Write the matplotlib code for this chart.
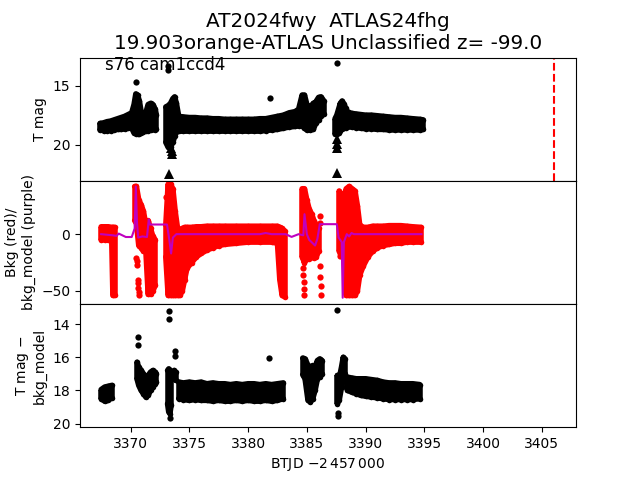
import numpy as np
import matplotlib
matplotlib.use("Agg")
import matplotlib.pyplot as plt

nan = np.nan

# ---------------- top panel: T mag envelope (bright edge, faint edge) ----------------
top_t = [3367.4, 3367.7, 3368.0, 3368.3, 3368.6, 3368.9, 3369.2, 3369.5, 3369.8, 3370.1,
         3370.3, 3370.45, 3370.6, 3370.75, 3370.9, 3371.1, 3371.3, 3371.5, 3371.7, 3371.9,
         3372.1, 3372.2, nan,
         3373.0, 3373.2, 3373.4, 3373.6, 3373.75, 3373.9, 3374.1, 3374.5, 3375.0, 3375.5,
         3376.0, 3376.5, 3377.0, 3377.5, 3378.0, 3378.5, 3379.0, 3379.5, 3380.0, 3380.5,
         3381.0, 3381.5, 3382.0, 3382.5, 3383.0, 3383.5, 3384.0, 3384.3, 3384.6, 3384.8,
         3385.0, 3385.3, 3385.55, 3385.75, 3386.0, 3386.2, 3386.45, nan,
         3387.4, 3387.55, 3387.7, 3387.85, 3388.0, 3388.15, 3388.3, 3388.45, 3388.8, 3389.2,
         3389.6, 3390.0, 3390.5, 3391.0, 3391.5, 3392.0, 3392.5, 3393.0, 3393.5, 3394.0,
         3394.6, 3394.9]
top_lo = [18.2, 18.15, 18.05, 18.0, 17.9, 17.8, 17.7, 17.6, 17.45, 17.3,
          16.6, 15.7, 15.8, 16.3, 17.2, 17.4, 17.3, 16.6, 16.5, 16.6,
          17.0, 17.5, nan,
          16.8, 16.7, 16.5, 16.1, 15.95, 16.5, 17.6, 17.65, 17.7, 17.7,
          17.75, 17.75, 17.8, 17.8, 17.85, 17.85, 17.85, 17.85, 17.85, 17.85,
          17.8, 17.8, 17.7, 17.6, 17.5, 17.3, 17.2, 17.0, 15.8, 15.8,
          16.6, 16.8, 16.5, 16.4, 16.0, 15.95, 16.3, nan,
          17.8, 17.5, 17.0, 16.5, 16.3, 16.55, 16.9, 17.2, 17.35, 17.4,
          17.45, 17.5, 17.5, 17.55, 17.6, 17.65, 17.7, 17.7, 17.75, 17.8,
          17.85, 17.9]
top_hi = [18.75, 18.8, 18.8, 18.8, 18.75, 18.7, 18.7, 18.65, 18.6, 18.6,
          19.0, 19.05, 19.1, 19.05, 19.0, 18.9, 18.8, 18.8, 18.75, 18.7,
          18.75, 18.7, nan,
          19.8, 20.2, 20.2, 19.8, 19.3, 18.9, 18.85, 18.85, 18.85, 18.85,
          18.85, 18.85, 18.85, 18.85, 18.85, 18.85, 18.85, 18.85, 18.85, 18.85,
          18.85, 18.8, 18.75, 18.7, 18.6, 18.5, 18.45, 18.4, 18.4, 18.6,
          18.75, 18.75, 18.7, 18.2, 17.9, 17.6, 17.4, nan,
          19.1, 19.1, 19.0, 18.8, 18.7, 18.6, 18.55, 18.5, 18.5, 18.55,
          18.6, 18.65, 18.65, 18.7, 18.7, 18.75, 18.75, 18.75, 18.75, 18.75,
          18.75, 18.7]
top_pt_t = [3370.5, 3373.2, 3373.2, 3381.84, 3387.54]
top_pt_m = [14.7, 13.35, 13.7, 16.05, 13.05]
lim_t = [3373.25, 3373.45, 3373.5, 3373.55, 3387.55, 3387.55, 3387.55, 3387.55]
lim_m = [22.5, 20.3, 20.55, 20.75, 19.55, 19.9, 20.25, 22.4]
ref_t = 3406.0

# ---------------- middle panel: background (red) and model (purple) ----------------
bkg_t = [3367.5, 3367.8, 3368.1, 3368.4, 3368.5, 3368.65, nan,
         3370.35, 3370.5, 3370.7, 3370.9, 3371.1, 3371.3, 3371.5, 3371.7, 3371.9, 3372.1, nan,
         3373.0, 3373.2, 3373.4, 3373.6, 3373.8, 3374.0, 3374.2, 3374.4, 3374.6, 3374.8,
         3375.2, 3375.6, 3376.0, 3376.5, 3377.0, 3377.5, 3378.0, 3379.0, 3380.0, 3381.0,
         3382.0, 3382.5, 3382.7, 3382.9, 3383.1, nan,
         3384.6, 3384.8, 3385.0, 3385.2, 3385.4, 3385.6, 3385.8, 3386.0, nan,
         3387.75, 3387.95, 3388.15, 3388.35, 3388.6, 3388.85, 3389.1, 3389.3, 3389.5, 3389.8,
         3390.2, 3390.6, 3391.0, 3391.5, 3392.0, 3392.5, 3393.0, 3393.5, 3394.0, 3394.7]
bkg_lo = [-5, -5, -5, -5, -54, -54, nan,
          12, 10, -10, -12, -15, -14, -53, -53, -50, -45, nan,
          -20, -54, -54, -54, -54, -54, -54, -50, -40, -30,
          -25, -20, -17, -14, -12, -10, -9, -8, -7, -7,
          -7, -8, -40, -54, -55, nan,
          -20, -25, -22, -22, -20, -21, -20, -15, nan,
          -15, -15, -18, -54, -54, -54, -54, -50, -36, -28,
          -20, -15, -12, -10, -9, -8, -8, -7, -7, -7]
bkg_hi = [6.5, 6.5, 6.5, 6.0, 6.0, 6.0, nan,
          42, 42, 30, 26, 20, 8, 12, 5, -2, -5, nan,
          8, 44, 44, 40, 20, 5, 3, 5, 6, 6,
          6, 6.5, 6.5, 7, 7, 7, 7, 7, 7, 7,
          7, 7, 6, 5, 3, nan,
          40, 40, 30, 22, 18, 12, 8, 5, nan,
          38, 35, 30, 40, 42, 40, 38, 25, 8, 6,
          6, 7, 7, 7, 7.5, 7.5, 7.5, 7, 6.5, 6]
bkg_pt_t = [3370.5, 3370.52, 3370.55, 3370.6, 3370.62, 3370.65, 3370.68, 3370.7,
            3373.05, 3373.1, 3384.65, 3384.7, 3384.72, 3384.75, 3384.8,
            3386.1, 3386.12, 3386.15, 3386.15, 3386.2, 3386.2, 3387.8, 3387.85]
bkg_pt_v = [-21, -24, -27, -40, -43, -47, -51, -54,
            33, -32, -30, -36, -42, -48, -54,
            16, 10, -28, -38, -46, -54, -19, -17]
model_t = [3367.5, 3368.0, 3368.5, 3368.8, 3369.0, 3369.2, 3369.6, 3370.1, 3370.35, 3370.45,
           3370.55, 3370.65, 3371.0, 3371.4, 3371.55, 3371.65, 3373.1, 3373.3, 3373.45, 3373.6,
           3373.9, 3377.0, 3381.0, 3381.5, 3382.0, 3383.2, 3383.7, 3384.3, 3384.7, 3384.8,
           3385.0, 3385.2, 3385.7, 3385.9, 3386.1, 3387.55, 3387.7, 3387.97, 3388.05, 3388.15,
           3388.4, 3388.6, 3388.8, 3389.0, 3394.75]
model_v = [0, -0.5, -1, -1.5, 0.5, -0.5, -2.5, -2.5, 5, 42,
           10, -3, -2, -2.5, 13, 8.5, 8.5, -5, -17, -3,
           0, 0, 0, 1, 0, 0, -2.4, 0, -1, 17.6,
           0, -5, -10, -4, 8.8, 8.8, -3, -7, -56, -7,
           0, -2, 1, 0, 0]

# ---------------- bottom panel: T mag - bkg_model ----------------
diff_t = [3367.5, 3367.8, 3368.1, 3368.4, nan,
          3370.55, 3370.7, 3370.9, 3371.1, 3371.3, 3371.5, 3371.7, 3371.9, 3372.1, 3372.2, nan,
          3373.15, 3373.25, 3373.35, 3373.45, nan,
          3373.7, 3373.85, nan,
          3374.1, 3374.5, 3375.0, 3375.5, 3376.0, 3376.5, 3377.0, 3377.5, 3378.0, 3378.5,
          3379.0, 3379.5, 3380.0, 3380.5, 3381.0, 3381.5, 3382.0, 3382.5, 3383.0, nan,
          3384.65, 3384.85, 3385.1, 3385.3, 3385.5, 3385.7, 3385.9, 3386.1, 3386.3, nan,
          3387.6, 3387.75, 3387.95, 3388.1, 3388.25, nan,
          3388.45, 3388.8, 3389.2, 3389.6, 3390.0, 3390.5, 3391.0, 3391.5, 3392.0, 3392.5,
          3393.0, 3393.5, 3394.0, 3394.6]
diff_lo = [17.95, 17.8, 17.75, 17.7, nan,
           16.3, 16.6, 16.8, 17.0, 17.2, 17.1, 16.9, 16.8, 16.9, 17.0, nan,
           16.8, 16.7, 16.9, 17.2, nan,
           16.8, 16.9, nan,
           17.5, 17.55, 17.5, 17.55, 17.5, 17.6, 17.55, 17.6, 17.6, 17.65,
           17.6, 17.65, 17.6, 17.6, 17.65, 17.6, 17.65, 17.6, 17.55, nan,
           16.05, 16.1, 16.5, 16.6, 16.5, 16.6, 16.2, 16.1, 16.2, nan,
           17.1, 17.3, 16.6, 16.0, 16.1, nan,
           17.2, 17.25, 17.3, 17.3, 17.3, 17.35, 17.4, 17.5, 17.55, 17.55,
           17.6, 17.6, 17.6, 17.65]
diff_hi = [18.5, 18.65, 18.6, 18.45, nan,
           17.3, 17.7, 18.0, 18.2, 18.4, 18.3, 18.0, 17.8, 17.6, 17.5, nan,
           18.8, 19.3, 19.4, 18.9, nan,
           17.3, 17.4, nan,
           18.5, 18.55, 18.6, 18.55, 18.6, 18.6, 18.65, 18.6, 18.65, 18.65,
           18.6, 18.65, 18.6, 18.65, 18.65, 18.6, 18.65, 18.6, 18.5, nan,
           17.05, 17.3, 18.6, 18.7, 18.5, 18.0, 17.3, 17.2, 17.0, nan,
           18.8, 18.6, 17.8, 17.3, 17.0, nan,
           18.0, 18.1, 18.2, 18.3, 18.35, 18.4, 18.45, 18.5, 18.55, 18.55,
           18.55, 18.55, 18.55, 18.5]
diff_pt_t = [3370.6, 3370.6, 3373.3, 3373.3, 3373.35, 3373.75, 3373.75, 3381.81, 3387.54,
             3387.62, 3387.62]
diff_pt_m = [14.8, 15.25, 13.23, 13.7, 19.65, 15.6, 15.9, 16.05, 13.15, 19.35, 19.55]

title = "AT2024fwy  ATLAS24fhg\n19.903orange-ATLAS Unclassified z= -99.0"
label_txt = "s76 cam1ccd4"

MS = 4.0


def draw_band(ax, t, lo, hi, color):
    t = np.asarray(t, float)
    lo = np.asarray(lo, float)
    hi = np.asarray(hi, float)
    ax.fill_between(t, lo, hi, color=color, lw=0)
    for edge in (lo, hi):
        ax.plot(t, edge, '-', color=color, lw=MS, solid_capstyle='round',
                solid_joinstyle='round')
        ax.plot(t, edge, 'o', color=color, ms=MS, mew=0)
    ax.vlines(t, lo, hi, color=color, lw=MS)


fig, (ax1, ax2, ax3) = plt.subplots(3, 1, sharex=True, figsize=(6.4, 4.8), dpi=100)
fig.subplots_adjust(hspace=0)

# top
draw_band(ax1, top_t, top_lo, top_hi, 'k')
ax1.plot(top_pt_t, top_pt_m, 'o', color='k', ms=4.5, mew=0)
ax1.plot(lim_t, lim_m, '^', color='k', ms=7, mew=0)
ax1.axvline(ref_t, color='r', ls='--', lw=1.5)
ax1.set_ylim(23.05, 12.63)
ax1.set_yticks([15, 20])
ax1.set_ylabel("T mag")
ax1.set_title(title, fontsize=14.4)
ax1.text(0.05, 0.9, label_txt, transform=ax1.transAxes, fontsize=12)

# middle
draw_band(ax2, bkg_t, bkg_lo, bkg_hi, 'r')
ax2.plot(bkg_pt_t, bkg_pt_v, 'o', color='r', ms=4.5, mew=0)
ax2.plot(model_t, model_v, '-', color='m', lw=1.5)
ax2.set_ylim(-61.5, 47)
ax2.set_yticks([-50, 0])
ax2.set_ylabel("Bkg (red)/\nbkg_model (purple)")

# bottom
draw_band(ax3, diff_t, diff_lo, diff_hi, 'k')
ax3.plot(diff_pt_t, diff_pt_m, 'o', color='k', ms=4.5, mew=0)
ax3.set_ylim(20.22, 12.79)
ax3.set_yticks([14, 16, 18, 20])
ax3.set_ylabel("T mag $-$\nbkg_model")

ax3.set_xlim(3365.7, 3407.9)
ax3.set_xticks([3370, 3375, 3380, 3385, 3390, 3395, 3400, 3405])
ax3.set_xlabel(r"BTJD $-2\,457\,000$")

fig.savefig("out.png", dpi=100)
